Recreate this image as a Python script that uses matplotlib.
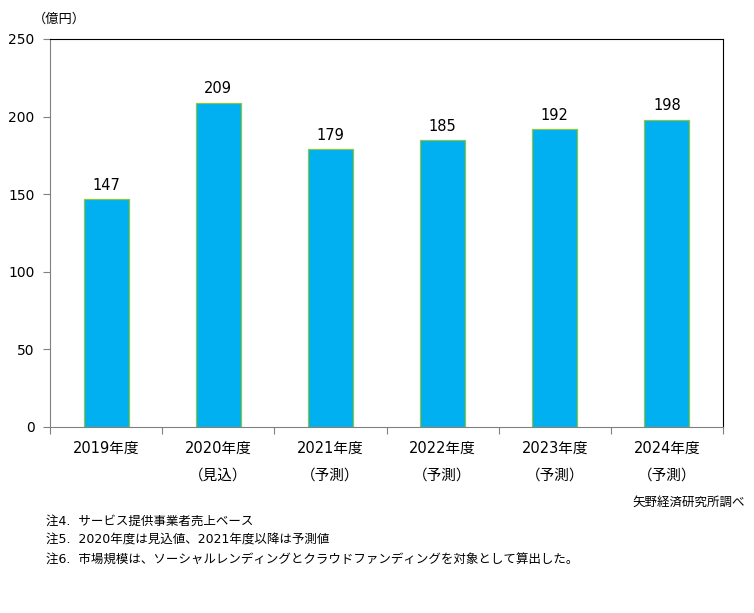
import matplotlib
matplotlib.use("Agg")
import matplotlib.pyplot as plt
import numpy as np

plt.rcParams["font.family"] = ["DejaVu Sans", "Noto Sans CJK JP"]

years = ["2019年度", "2020年度", "2021年度", "2022年度", "2023年度", "2024年度"]
subs = ["", "（見込）", "（予測）", "（予測）", "（予測）", "（予測）"]
values = [147, 209, 179, 185, 192, 198]
notes = [
    "注4.  サービス提供事業者売上ベース",
    "注5.  2020年度は見込値、2021年度以降は予測値",
    "注6.  市場規模は、ソーシャルレンディングとクラウドファンディングを対象として算出した。",
]
source = "矢野経済研究所調べ"

fig = plt.figure(figsize=(7.54, 6.13), dpi=100)
ax = fig.add_axes([50 / 754, 1 - 427 / 613, (723 - 50) / 754, (427 - 39) / 613])

x = np.arange(len(values))
ax.bar(x, values, width=0.4, color="#00B0F0", edgecolor="#8DC63F", linewidth=0.9)
for xi, v in zip(x, values):
    ax.text(xi, v + 4, str(v), ha="center", va="bottom", fontsize=10.5)

ax.set_xlim(-0.5, len(values) - 0.5)
ax.set_ylim(0, 250)
ax.set_yticks(range(0, 251, 50))
ax.tick_params(axis="y", labelsize=10, color="#808080", length=5, direction="out", pad=6)

ax.set_xticks(np.arange(-0.5, len(values), 1.0))
ax.set_xticklabels([])
ax.tick_params(axis="x", color="#808080", length=5, direction="out")
labels = [y if not s else f"{y}\n{s}" for y, s in zip(years, subs)]
for xi, lab in zip(x, labels):
    ax.text(xi, -9, lab, ha="center", va="top", fontsize=10.5, linespacing=1.95)

ax.spines["left"].set_color("#808080")
ax.spines["bottom"].set_color("#808080")
ax.spines["top"].set_color("black")
ax.spines["right"].set_color("black")

fig.text(33 / 754, 1 - 19 / 613, "（億円）", ha="left", va="center", fontsize=9.5)
fig.text(745 / 754, 1 - 502 / 613, source, ha="right", va="center", fontsize=9)
for i, n in enumerate(notes):
    fig.text(46 / 754, 1 - (521 + i * 19.5) / 613, n, ha="left", va="center", fontsize=9)

fig.savefig("out.png", dpi=100)
